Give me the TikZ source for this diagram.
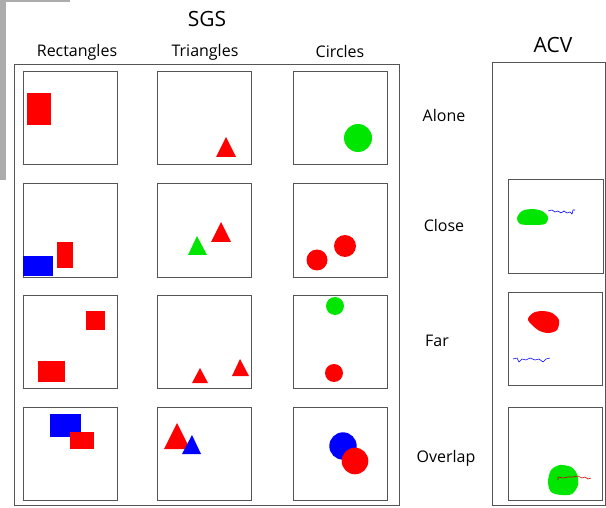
\documentclass[tikz,border=0pt]{standalone}
\usepackage{fontspec}
\setmainfont{Open Sans}
\definecolor{pure green}{RGB}{0,230,0}
\definecolor{framegray}{RGB}{85,85,85}
\tikzset{
  panel/.style={draw=framegray,line width=0.9pt},
  frame/.style={draw=framegray,line width=0.9pt},
  head/.style={font=\fontsize{16}{19}\selectfont,anchor=base},
  title/.style={font=\fontsize{21}{25}\selectfont,anchor=base},
  trace/.style={line width=0.6pt,line join=round}
}
\begin{document}
\begin{tikzpicture}[x=1pt,y=-1pt]
		\useasboundingbox (0,0) rectangle (606,508);
		% screenshot leftovers
		\fill[gray!65] (0,0) rectangle (6,180);
		\fill[gray!65] (0,0) rectangle (70,2);
		% titles
		\node[title] (sgs) at (207,27) {SGS};
		\node[title] (acv) at (553,53) {ACV};
		\node[head] (rects) at (77,57) {Rectangles};
		\node[head] (tris) at (205,57) {Triangles};
		\node[head] (circs) at (340,58) {Circles};
		\node[head] (alone) at (444,122) {Alone};
		\node[head] (close) at (444,232) {Close};
		\node[head] (far) at (437,346) {Far};
		\node[head] (overlap) at (446,462) {Overlap};
		% frames
		\draw[frame] (14,64) rectangle (399,505);
		\draw[frame] (492,62) rectangle (605,505);
		\draw[panel] (23,71) rectangle (117,164);
		\draw[panel] (157,71) rectangle (251,164);
		\draw[panel] (293,71) rectangle (387,164);
		\draw[panel] (23,183) rectangle (117,277);
		\draw[panel] (157,183) rectangle (251,277);
		\draw[panel] (293,183) rectangle (387,277);
		\draw[panel] (23,295) rectangle (117,388);
		\draw[panel] (157,295) rectangle (251,388);
		\draw[panel] (293,295) rectangle (387,388);
		\draw[panel] (23,407) rectangle (117,500);
		\draw[panel] (157,407) rectangle (251,500);
		\draw[panel] (293,407) rectangle (387,500);
		\draw[panel] (508,179) rectangle (603,273);
		\draw[panel] (508,292) rectangle (602,385);
		\draw[panel] (508,407) rectangle (602,500);
		% alone
		\fill[red] (27,93) rectangle (51,125);
		\fill[red] (216,157) -- (226,137) -- (236,157) -- cycle;
		\fill[pure green] (358,138) circle (14);
		% close
		\fill[blue] (23,256) rectangle (53,276);
		\fill[red] (57,242) rectangle (73,268);
		\fill[pure green] (188,255) -- (197,236) -- (207,255) -- cycle;
		\fill[red] (211,242) -- (221,222) -- (231,242) -- cycle;
		\fill[red] (317,260) circle (10.5);
		\fill[red] (345,246) circle (11);
		% far
		\fill[red] (86,311) rectangle (105,330);
		\fill[red] (38,361) rectangle (65,382);
		\fill[red] (192,383) -- (200,368) -- (208,383) -- cycle;
		\fill[red] (232,376) -- (240,359) -- (249,376) -- cycle;
		\fill[pure green] (335,306) circle (9);
		\fill[red] (334,373) circle (9);
		% overlap
		\fill[blue] (50,414) rectangle (81,437);
		\fill[red] (70,432) rectangle (94,449);
		\fill[red] (164,449) -- (177,423) -- (190,449) -- cycle;
		\fill[blue] (182,454) -- (192,435) -- (201,454) -- cycle;
		\fill[blue] (343,446) circle (13.7);
		\fill[red] (355,461) circle (13.3);
		% acv
		\fill[pure green] plot[smooth cycle] coordinates {(517,218) (522,211) (532,209) (542,211) (548,217) (545,224) (532,225) (520,224)};
		\draw[blue,trace] plot coordinates {(548,211) (552,210) (555,212) (558,211) (561,213) (564,211) (567,213) (570,212) (572,214) (573,210) (575,210)};
		\fill[red] plot[smooth cycle] coordinates {(528,320) (533,313) (542,311) (552,313) (559,320) (557,330) (548,333) (538,330)};
		\draw[blue,trace] plot coordinates {(513,359) (517,358) (519,362) (522,359) (526,360) (530,358) (535,360) (539,359) (543,362) (546,359) (550,358)};
		\fill[pure green] plot[smooth cycle] coordinates {(548,482) (551,470) (560,465) (571,467) (577,474) (578,485) (572,494) (561,495) (551,492)};
		\draw[red!80!black,trace] plot coordinates {(558,480) (558,477) (563,478) (568,477) (573,477) (578,476) (582,478) (585,477) (588,479) (591,478)};
	\end{tikzpicture}
\end{document}
